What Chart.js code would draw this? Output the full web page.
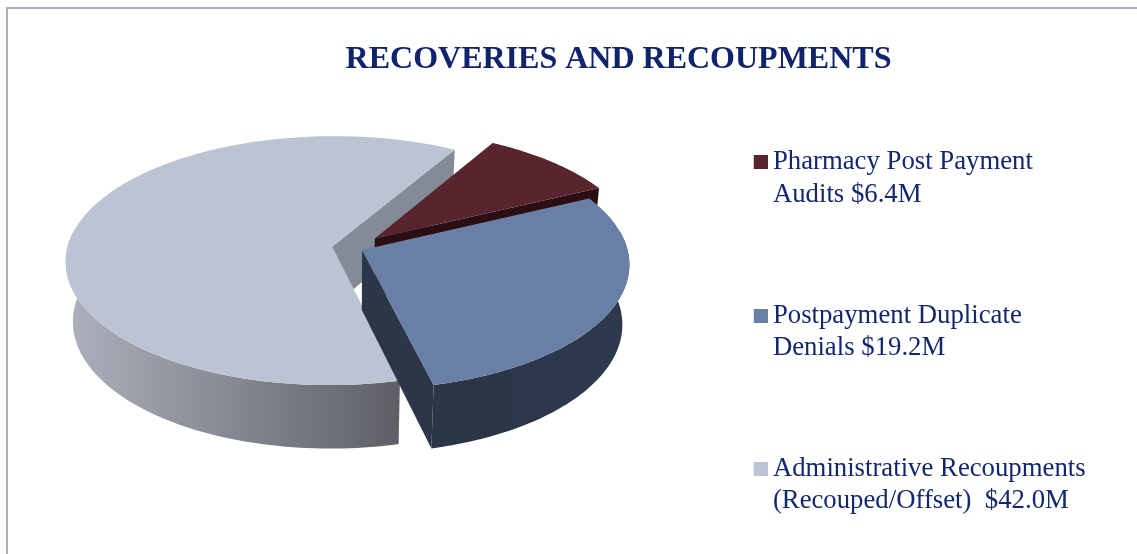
<!DOCTYPE html>
<html>
<head>
<meta charset="utf-8">
<title>Recoveries and Recoupments</title>
<script src="https://cdn.jsdelivr.net/npm/chart.js@4/dist/chart.umd.min.js"></script>
<style>
  html, body { margin: 0; padding: 0; background: #fff; overflow: hidden; }
  #frame { position: absolute; left: 6px; top: 7px; width: 1131px; height: 547px; overflow: hidden;
           border-left: 2px solid #aeb0c2; border-top: 2px solid #aeb0c2; }
  canvas { display: block; }
</style>
</head>
<body>
<div id="frame"><canvas id="grafico" width="1129" height="640"></canvas></div>
<script>
const titulo = 'RECOVERIES AND RECOUPMENTS';
const categorias = [
  ['Pharmacy Post Payment', 'Audits $6.4M'],
  ['Postpayment Duplicate', 'Denials $19.2M'],
  ['Administrative Recoupments', '(Recouped/Offset)  $42.0M']
];
const valores = [6.4, 19.2, 42.0];
const separacion = [30, 10, 21];
const coloresTapa = ['#58252f', '#6a7fa6', '#bcc3d2'];
const coloresCara = ['#2a0e11', '#2b3649', '#848b96'];
const coloresPared = [['#2a0e11', '#2a0e11'], ['#2a3547', '#2d394d'], ['#adb1bd', '#5e5f66']];

// Vista inclinada: cuanto se aplasta el circulo, altura de la pared, perspectiva
const aplastado = 0.465;
const altura = 60;
const lejania = 2350;
const escalaBase = 0.975;

// Cuadrito de la leyenda: Chart.js deja mucho hueco antes del texto, asi que
// el cuadro va a la derecha de una imagen mas ancha
function cuadrito(color) {
  const c = document.createElement('canvas');
  c.width = 22;
  c.height = 14;
  const g = c.getContext('2d');
  g.fillStyle = color;
  g.fillRect(8, 0, 14, 14);
  return c;
}

const pie3d = {
  id: 'pie3d',
  afterLayout(chart) {
    // El titulo y la leyenda no van centrados en el canvas
    chart.titleBlock.left += 46;
    chart.titleBlock.right += 46;
    chart.legend.left = 657;
    chart.legend.top = 51;
  },
  beforeDatasetsDraw(chart) {
    const ctx = chart.ctx;
    const arcos = chart.getDatasetMeta(0).data;
    const cx = 345;
    const cy = 239;

    const proyectar = (u, v, abajo) => {
      const e = abajo ? escalaBase : 1;
      const f = lejania / (lejania - v * e);
      return [cx + u * e * f, cy + v * e * aplastado * f + (abajo ? altura * f : 0)];
    };

    // se pinta de atras hacia adelante
    [2, 0, 1].forEach(i => {
      const arco = arcos[i];
      const a = arco.startAngle, b = arco.endAngle, r = arco.outerRadius;
      const medio = (a + b) / 2;
      const ou = Math.cos(medio) * arco.options.offset;
      const ov = Math.sin(medio) * arco.options.offset;
      const borde = (t, abajo) => proyectar(ou + r * Math.cos(t), ov + r * Math.sin(t), abajo);
      const centro = abajo => proyectar(ou, ov, abajo);

      const poligono = (puntos, relleno) => {
        ctx.beginPath();
        puntos.forEach((p, n) => n ? ctx.lineTo(p[0], p[1]) : ctx.moveTo(p[0], p[1]));
        ctx.closePath();
        ctx.fillStyle = relleno;
        ctx.fill();
      };
      const tramo = (desde, hasta, abajo) => {
        const pts = [];
        for (let n = 0; n <= 80; n++) pts.push(borde(desde + (hasta - desde) * n / 80, abajo));
        return pts;
      };

      // caras rectas que miran al frente
      if (Math.cos(b) > 0) {
        poligono([centro(false), borde(b, false), borde(b, true), centro(true)], coloresCara[i]);
      }
      if (Math.cos(a) < 0) {
        poligono([centro(false), borde(a, false), borde(a, true), centro(true)], coloresCara[i]);
      }

      // pared exterior, solo la parte delantera
      const d = Math.max(a, -0.15), h = Math.min(b, Math.PI + 0.15);
      if (d < h) {
        const arriba = tramo(d, h, false);
        const abajo = tramo(h, d, true);
        const xs = arriba.concat(abajo).map(p => p[0]);
        const grad = ctx.createLinearGradient(Math.min(...xs), 0, Math.max(...xs), 0);
        grad.addColorStop(0, coloresPared[i][0]);
        grad.addColorStop(1, coloresPared[i][1]);
        poligono(arriba.concat(abajo), grad);
      }

      // tapa
      poligono([centro(false)].concat(tramo(a, b, false)), coloresTapa[i]);
    });
    return false;
  }
};

new Chart(document.getElementById('grafico').getContext('2d'), {
  type: 'pie',
  data: {
    labels: categorias,
    datasets: [{
      data: valores,
      backgroundColor: coloresTapa,
      borderWidth: 0,
      offset: separacion,
      radius: 265
    }]
  },
  plugins: [pie3d],
  options: {
    responsive: false,
    animation: false,
    rotation: 30,
    layout: { padding: 0 },
    plugins: {
      tooltip: { enabled: false },
      title: {
        display: true,
        text: titulo,
        color: '#11246b',
        padding: { top: 32, bottom: 0 },
        font: { family: '"Liberation Serif"', size: 32, weight: 'bold', lineHeight: 1.2 }
      },
      legend: {
        position: 'right',
        align: 'start',
        labels: {
          color: '#14276e',
          usePointStyle: true,
          boxWidth: 5.5,
          boxHeight: 14,
          padding: 89,
          font: { family: '"Liberation Serif"', size: 26.75, lineHeight: 1.2 },
          generateLabels: chart => Chart.overrides.pie.plugins.legend.labels.generateLabels(chart)
            .map((item, i) => ({ ...item, pointStyle: cuadrito(coloresTapa[i]) }))
        }
      }
    }
  }
});
</script>
</body>
</html>
